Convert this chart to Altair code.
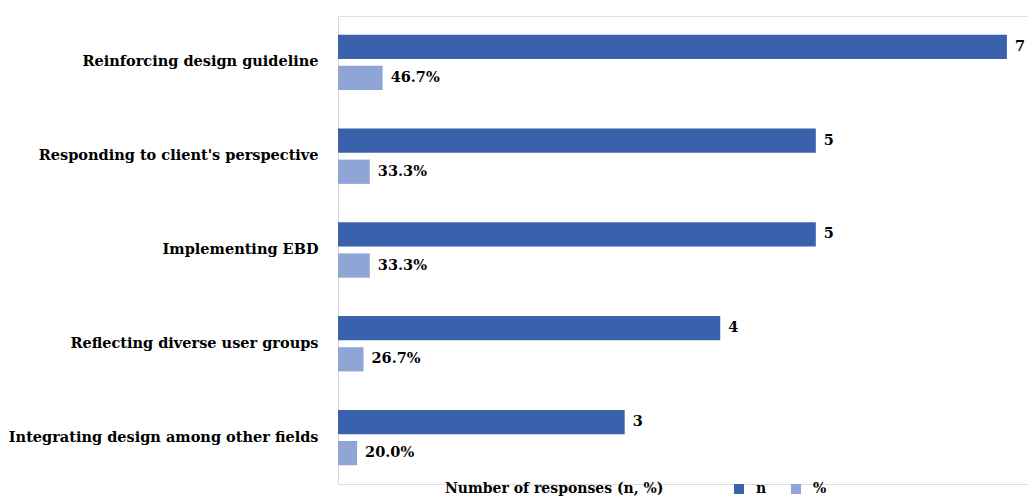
import altair as alt
import pandas as pd

categories = [
    "Reinforcing design guideline",
    "Responding to client's perspective",
    "Implementing EBD",
    "Reflecting diverse user groups",
    "Integrating design among other fields",
]
n_values = [7, 5, 5, 4, 3]
pct_values = [46.7, 33.3, 33.3, 26.7, 20.0]
series = ["n", "%"]
colors = ["#3A62AC", "#8FA5D6"]

rows = []
for c, n, p in zip(categories, n_values, pct_values):
    rows.append({"category": c, "series": "n", "value": n, "label": f"{n}"})
    rows.append({"category": c, "series": "%", "value": p / 100, "label": f"{p:.1f}%"})
df = pd.DataFrame(rows)

FONT = "DejaVu Serif"
FS = 14.5

y = alt.Y(
    "category:N",
    sort=categories,
    scale=alt.Scale(paddingInner=0.41, paddingOuter=0.2),
    axis=alt.Axis(
        title=None,
        ticks=False,
        domainColor="#D9D9D9",
        domainWidth=1,
        labelFont=FONT,
        labelFontWeight="bold",
        labelFontSize=FS,
        labelColor="#000000",
        labelPadding=20,
        labelLimit=400,
    ),
)
yoff = alt.YOffset("series:N", sort=series, scale=alt.Scale(paddingInner=0.22))
x = alt.X("value:Q", scale=alt.Scale(domain=[0, 7.21], nice=False), axis=None)

bars = alt.Chart(df).mark_bar().encode(
    y=y,
    yOffset=yoff,
    x=x,
    color=alt.Color(
        "series:N",
        sort=series,
        scale=alt.Scale(domain=series, range=colors),
        legend=alt.Legend(
            title="Number of responses (n, %)",
            orient="none",
            legendX=107,
            legendY=466,
            direction="horizontal",
            titleOrient="left",
            titlePadding=68,
            titleLimit=500,
            titleFont=FONT,
            titleFontSize=14,
            titleFontWeight="bold",
            titleColor="#000000",
            titleBaseline="middle",
            labelFont=FONT,
            labelFontSize=14,
            labelFontWeight="bold",
            labelColor="#000000",
            symbolType="square",
            symbolSize=100,
            symbolStrokeWidth=0,
            columnPadding=22,
            labelOffset=10,
        ),
    ),
)

text = alt.Chart(df).mark_text(
    align="left", baseline="middle", dx=8, font=FONT, fontSize=FS, fontWeight="bold", color="#000000"
).encode(y=y, yOffset=yoff, x=x, text="label:N")

chart = (
    alt.layer(bars, text)
    .properties(
        width=689,
        height=468,
        autosize=alt.AutoSizeParams(type="none"),
        padding={"left": 338, "top": 16, "right": 0, "bottom": 13},
    )
    .configure_view(stroke=None)
    .configure(background="#FFFFFF")
)

chart.save("out.html", embed_options={"renderer": "svg", "actions": False})
